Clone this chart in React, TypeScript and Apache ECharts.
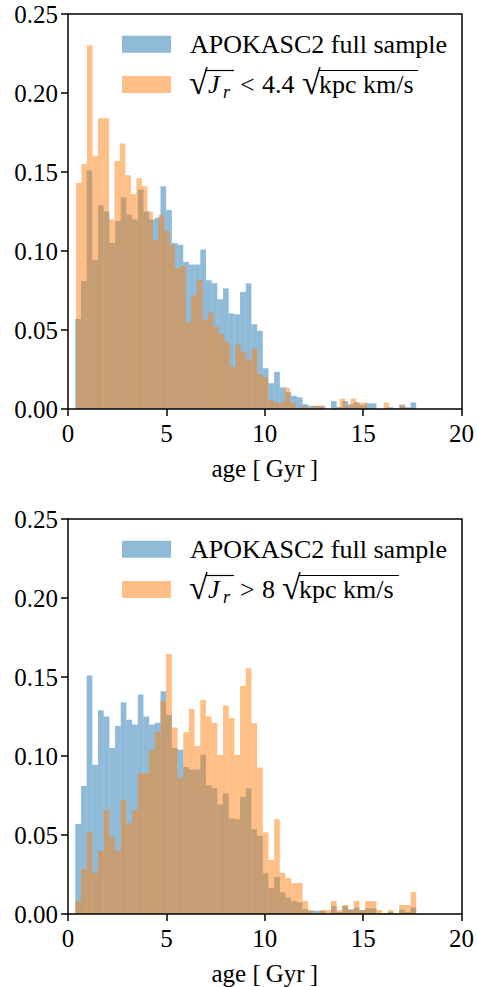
import React, { useEffect, useRef } from "react";
import * as echarts from "echarts";

// Histogram bin definitions (60 bins each)
const fullStart = 0.37;
const fullWidth = 0.2888;
const lowStart = 0.405;
const lowWidth = 0.2792;
const highStart = 0.37;
const highWidth = 0.2888;

// APOKASC2 full sample (normalised histogram)
const fullSample = [
  0.057, 0.081, 0.151, 0.0945, 0.129, 0.125, 0.105, 0.119, 0.134, 0.123,
  0.12, 0.139, 0.125, 0.12, 0.121, 0.141, 0.126, 0.105, 0.104, 0.093,
  0.0915, 0.0915, 0.101, 0.0815, 0.0797, 0.0694, 0.0763, 0.0605, 0.06, 0.074,
  0.0795, 0.0536, 0.0495, 0.0258, 0.0163, 0.0235, 0.0137, 0.0106, 0.0083, 0.0074,
  0.003, 0.002, 0.002, 0.002, 0, 0.005, 0.0013, 0.005, 0.003, 0.0042,
  0.0025, 0.0036, 0.0036, 0, 0.0006, 0.0011, 0.0006, 0.0028, 0.0011, 0.0042,
];

// sqrt(Jr) < 4.4 sqrt(kpc km/s)
const lowJr = [
  0.143, 0.155, 0.23, 0.16, 0.184, 0.184, 0.12, 0.157, 0.168, 0.148,
  0.136, 0.146, 0.141, 0.125, 0.107, 0.123, 0.113, 0.104, 0.089, 0.0905,
  0.055, 0.072, 0.0816, 0.0563, 0.061, 0.052, 0.0475, 0.0424, 0.0268, 0.0407,
  0.0363, 0.0312, 0.0382, 0.0221, 0.02, 0.006, 0.004, 0.004, 0.0135, 0.004,
  0, 0.002, 0, 0.002, 0.002, 0, 0, 0, 0.0065, 0.002,
  0.0065, 0.004, 0.004, 0, 0, 0, 0.004, 0, 0, 0.002,
];

// sqrt(Jr) > 8 sqrt(kpc km/s)
const highJr = [
  0.0082, 0.0285, 0.0519, 0.026, 0.04, 0.0658, 0.0487, 0.04, 0.0722, 0.0576,
  0.0658, 0.0892, 0.0892, 0.1038, 0.1152, 0.135, 0.1646, 0.118, 0.086, 0.115,
  0.1297, 0.1063, 0.1354, 0.125, 0.121, 0.1006, 0.132, 0.124, 0.1006, 0.1443,
  0.1555, 0.1207, 0.0928, 0.0517, 0.0342, 0.06, 0.026, 0.0228, 0.0196, 0.0196,
  0.0082, 0.0025, 0, 0.0025, 0.0025, 0.0082, 0.0025, 0.0057, 0.0025, 0.0082,
  0.0025, 0.0082, 0.0082, 0.0025, 0, 0.0025, 0, 0.0057, 0.0057, 0.0139,
];

const legendFull = "APOKASC2 full sample";
const xName = "age [\u2009Gyr\u2009]";

const BLUE = "rgba(31,119,180,0.5)";
const ORANGE = "rgba(255,127,14,0.5)";
const FONT = "Liberation Serif";
const FS = 25;
const LFS = 26;

function toBins(values: number[], start: number, width: number) {
  return values.map((v, i) => [start + i * width, start + (i + 1) * width, v]);
}

function histSeries(values: number[], start: number, width: number, color: string, idx: number) {
  return {
    type: "custom",
    xAxisIndex: idx * 2,
    yAxisIndex: idx * 2,
    data: toBins(values, start, width),
    encode: { x: [0, 1], y: 2 },
    clip: true,
    z: 2,
    renderItem: (params: any, api: any) => {
      const x0 = api.value(0);
      const x1 = api.value(1);
      const h = api.value(2);
      const p0 = api.coord([x0, h]);
      const p1 = api.coord([x1, 0]);
      return {
        type: "rect",
        shape: { x: p0[0], y: p0[1], width: p1[0] - p0[0], height: p1[1] - p0[1] },
        style: { fill: color },
      };
    },
  };
}

function mathLegend(yc: number, op: string, val: string, sqrtX: number, unitX: number, overEnd: number) {
  const t = (text: string, x: number, y: number, extra: any = {}) => ({
    type: "text",
    x,
    y,
    z: 20,
    style: {
      text,
      fontFamily: FONT,
      fontSize: LFS,
      fill: "#000",
      verticalAlign: "middle",
      ...extra,
    },
  });
  const ln = (x1: number, x2: number, y: number) => ({
    type: "line",
    z: 20,
    shape: { x1, y1: y, x2, y2: y },
    style: { stroke: "#000", lineWidth: 1.2 },
  });
  return [
    t("\u221a", 189, yc - 2, { fontSize: 34 }),
    ln(205, 234, yc - 14),
    t("J", 208, yc, { fontStyle: "italic" }),
    t("r", 223, yc + 7, { fontStyle: "italic", fontSize: 18 }),
    t(op, 240, yc),
    t(val, 262, yc),
    t("\u221a", sqrtX, yc - 2, { fontSize: 34 }),
    ln(sqrtX + 16, overEnd, yc - 14),
    t("kpc km/s", unitX, yc),
  ];
}

function legendBlock(top: number, op: string, val: string, sqrtX: number, unitX: number, overEnd: number) {
  return [
    { type: "rect", z: 20, shape: { x: 122, y: top + 21.7, width: 49, height: 17 }, style: { fill: BLUE } },
    { type: "rect", z: 20, shape: { x: 122, y: top + 62, width: 49, height: 17 }, style: { fill: ORANGE } },
    {
      type: "text",
      z: 20,
      x: 190,
      y: top + 30.5,
      style: { text: legendFull, fontFamily: FONT, fontSize: LFS, fill: "#000", verticalAlign: "middle" },
    },
    ...mathLegend(top + 70.5, op, val, sqrtX, unitX, overEnd),
  ];
}

function axesFor(gridIndex: number) {
  const lineStyle = { color: "#000", width: 1.5 };
  const label = { fontFamily: FONT, fontSize: FS, color: "#000" };
  const xMain = {
    type: "value",
    gridIndex,
    min: 0,
    max: 20,
    interval: 5,
    position: "bottom",
    z: 10,
    axisLine: { show: true, onZero: false, lineStyle },
    axisTick: { show: true, inside: false, length: 7, lineStyle },
    axisLabel: { ...label, margin: 12 },
    splitLine: { show: false },
    name: xName,
    nameLocation: "middle",
    nameGap: 47,
    nameTextStyle: { fontFamily: FONT, fontSize: FS, color: "#000" },
  };
  const xTop = {
    type: "value",
    gridIndex,
    min: 0,
    max: 20,
    position: "top",
    z: 10,
    axisLine: { show: true, onZero: false, lineStyle },
    axisTick: { show: false },
    axisLabel: { show: false },
    splitLine: { show: false },
  };
  const yMain = {
    type: "value",
    gridIndex,
    min: 0,
    max: 0.25,
    interval: 0.05,
    position: "left",
    z: 10,
    axisLine: { show: true, onZero: false, lineStyle },
    axisTick: { show: true, inside: false, length: 7, lineStyle },
    axisLabel: { ...label, margin: 10, formatter: (v: number) => v.toFixed(2) },
    splitLine: { show: false },
  };
  const yRight = {
    type: "value",
    gridIndex,
    min: 0,
    max: 0.25,
    position: "right",
    z: 10,
    axisLine: { show: true, onZero: false, lineStyle },
    axisTick: { show: false },
    axisLabel: { show: false },
    splitLine: { show: false },
  };
  return { x: [xMain, xTop], y: [yMain, yRight] };
}

export default function App() {
  const ref = useRef<HTMLDivElement>(null);
  useEffect(() => {
    if (!ref.current) return;
    const chart = echarts.init(ref.current, null, { renderer: "svg" });
    const a0 = axesFor(0);
    const a1 = axesFor(1);
    chart.setOption({
      animation: false,
      backgroundColor: "#fff",
      grid: [
        { left: 68, top: 14, width: 395, height: 395 },
        { left: 68, top: 519, width: 395, height: 395 },
      ],
      xAxis: [...a0.x, ...a1.x],
      yAxis: [...a0.y, ...a1.y],
      series: [
        histSeries(fullSample, fullStart, fullWidth, BLUE, 0),
        histSeries(lowJr, lowStart, lowWidth, ORANGE, 0),
        histSeries(fullSample, fullStart, fullWidth, BLUE, 1),
        histSeries(highJr, highStart, highWidth, ORANGE, 1),
      ],
      graphic: [
        ...legendBlock(14, "<", "4.4", 302, 319, 418),
        ...legendBlock(519, ">", "8", 282, 299, 399),
      ],
    });
    return () => chart.dispose();
  }, []);
  return (
    <div
      ref={ref}
      style={{ position: "fixed", left: 0, top: 0, width: 477, height: 987, background: "#fff" }}
    />
  );
}
